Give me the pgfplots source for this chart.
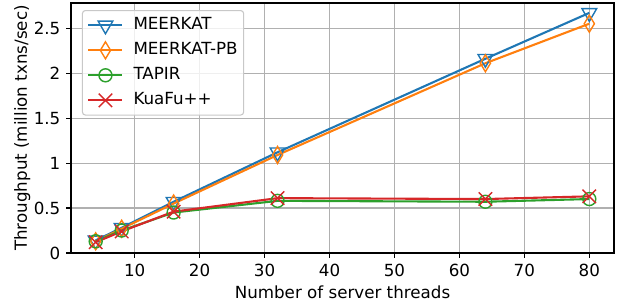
\documentclass[border=0pt]{standalone}
\usepackage{pgfplots}
\pgfplotsset{compat=1.18}
\usepackage{fontspec}
\setmainfont{DejaVu Sans}
\usetikzlibrary{plotmarks}
\definecolor{c0}{HTML}{1F77B4}
\definecolor{c1}{HTML}{FF7F0E}
\definecolor{c2}{HTML}{2CA02C}
\definecolor{c3}{HTML}{D62728}
\definecolor{gridc}{HTML}{B0B0B0}
\begin{document}
\fontsize{16.7pt}{19pt}\selectfont
\begin{tikzpicture}
\begin{axis}[
  name=ax,
  scale only axis,
  width=543pt, height=250pt,
  xmin=0.2, xmax=83.8,
  ymin=0, ymax=2.78,
  xtick={10,20,30,40,50,60,70,80},
  ytick={0,0.5,1,1.5,2,2.5},
  yticklabels={0,0.5,1,1.5,2,2.5},
  /pgf/number format/assume math mode=true,
  tick label style={font=\fontsize{16.7pt}{19pt}\selectfont},
  label style={font=\fontsize{16.7pt}{19pt}\selectfont},
  xlabel={Number of server threads},
  ylabel={Throughput (million txns/sec)},
  xlabel style={yshift=2pt},
  ylabel style={yshift=-8pt},
  grid=major,
  major grid style={gridc, line width=1.1pt},
  tick style={black, line width=1.1pt},
  tick align=outside,
  major tick length=4.9pt,
  axis line style={black, line width=1.1pt},
  xtick pos=bottom, ytick pos=left,
  every axis plot/.append style={line width=2.1pt},
  legend cell align=left,
  legend style={at={(0.02,0.972)}, anchor=north west, draw=gridc!70, rounded corners=3pt,
    fill=white, fill opacity=0.8, text opacity=1, line width=1.1pt,
    font=\fontsize{16.7pt}{19pt}\selectfont, row sep=7.5pt, inner xsep=5pt, inner ysep=6pt,
    nodes={inner sep=1pt, text height=12pt, text depth=3.5pt},
    /tikz/every odd column/.append style={column sep=9pt}},
  legend image code/.code={
    \draw[mark repeat=2, mark phase=2] plot coordinates {(0pt,0pt) (17pt,0pt) (34pt,0pt)};
  },
]
\addplot[c0, mark=triangle, mark size=8.5pt, mark options={solid, rotate=180, line width=1.4pt, fill=none}]
  coordinates {(4,0.14) (8,0.28) (16,0.57) (32,1.12) (64,2.16) (80,2.67)};
\addlegendentry{MEERKAT}
\addplot[c1, mark=diamond, mark size=8.5pt, mark options={solid, line width=1.4pt, fill=none, xscale=0.8}]
  coordinates {(4,0.13) (8,0.27) (16,0.55) (32,1.09) (64,2.11) (80,2.55)};
\addlegendentry{MEERKAT-PB}
\addplot[c2, mark=o, mark size=6.5pt, mark options={solid, line width=1.4pt, fill=none}]
  coordinates {(4,0.13) (8,0.25) (16,0.45) (32,0.58) (64,0.57) (80,0.60)};
\addlegendentry{TAPIR}
\addplot[c3, mark=x, mark size=9.5pt, mark options={solid, line width=1.4pt}]
  coordinates {(4,0.12) (8,0.24) (16,0.46) (32,0.61) (64,0.60) (80,0.63)};
\addlegendentry{KuaFu++}
\end{axis}
\pgfresetboundingbox
\path ([xshift=-71pt,yshift=-53pt]ax.south west) rectangle ([xshift=7pt,yshift=3pt]ax.north east);
\end{tikzpicture}
\end{document}
